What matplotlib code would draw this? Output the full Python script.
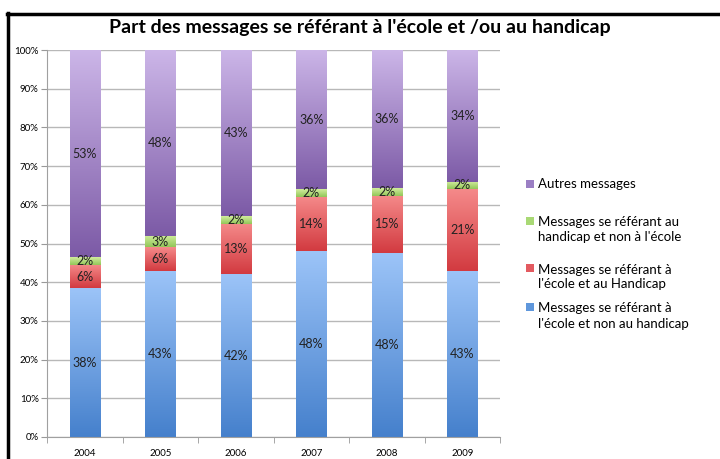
import numpy as np
import matplotlib
matplotlib.use("Agg")
from matplotlib import pyplot as plt
from matplotlib.colors import LinearSegmentedColormap
from matplotlib.patches import Rectangle
from matplotlib.lines import Line2D

plt.rcParams['font.family'] = ['Lato', 'DejaVu Sans']

years = ['2004', '2005', '2006', '2007', '2008', '2009']
ecole_non_handicap = [38, 43, 42, 48, 48, 43]
ecole_et_handicap = [6, 6, 13, 14, 15, 21]
handicap_non_ecole = [2, 3, 2, 2, 2, 2]
autres = [53, 48, 43, 36, 36, 34]

series = [ecole_non_handicap, ecole_et_handicap, handicap_non_ecole, autres]
labels = ["Messages se référant à\nl'école et non au handicap",
          "Messages se référant à\nl'école et au Handicap",
          "Messages se référant au\nhandicap et non à l'école",
          "Autres messages"]
# (bottom colour, top colour) for the gradient
colors = [('#4580cc', '#9cc4f8'),
          ('#d23a40', '#f58a8a'),
          ('#92c658', '#d2ed9e'),
          ('#7c5aa6', '#ccb6e8')]
legend_colors = ['#5f97dc', '#e35a60', '#a9d975', '#9b7fc4']

data = np.array(series, dtype=float)
pct = data / data.sum(axis=0) * 100

fig = plt.figure(figsize=(7.2, 4.59), dpi=100)
ax = fig.add_axes([47/720, 1-437/459, 453/720, 387/459])

x = np.arange(len(years))
w = 0.4
grad = np.linspace(0, 1, 256).reshape(-1, 1)
bottom = np.zeros(len(years))
for i, s in enumerate(pct):
    cmap = LinearSegmentedColormap.from_list('c%d' % i, list(colors[i]))
    bars = ax.bar(x, s, bottom=bottom, width=w, color='none', edgecolor='none', zorder=2)
    for j, bar in enumerate(bars):
        im = ax.imshow(grad, extent=[x[j]-w/2, x[j]+w/2, bottom[j], bottom[j]+s[j]],
                       origin='lower', cmap=cmap, aspect='auto', zorder=2)
        im.set_clip_path(bar)
        ax.text(x[j], bottom[j] + s[j]/2, '%d%%' % data[i][j], ha='center', va='center',
                fontsize=9, color='#222222', zorder=3)
    bottom += s

ax.set_xlim(-0.5, len(years)-0.5)
ax.set_ylim(0, 100)
ax.set_yticks(np.arange(0, 101, 10))
ax.set_yticklabels(['%d%%' % v for v in range(0, 101, 10)], fontsize=7)
ax.set_xticks(x)
ax.set_xticklabels(years, fontsize=7)
ax.set_xticks(np.arange(-0.5, len(years)), minor=True)
ax.tick_params(axis='x', which='major', length=0, pad=9)
ax.tick_params(axis='x', which='minor', length=4, color='#999999')
ax.tick_params(axis='y', length=4, color='#999999', pad=2)
ax.yaxis.grid(True, color='#b8b8b8', linewidth=1)
ax.set_axisbelow(True)
for side in ['top', 'right']:
    ax.spines[side].set_visible(False)
for side in ['left', 'bottom']:
    ax.spines[side].set_color('#a0a0a0')

fig.text(360/720, 1-28/459, "Part des messages se référant à l'école et /ou au handicap",
         ha='center', va='center', fontsize=14, fontweight='bold')

# legend, drawn by hand to keep the uneven spacing
leg_y = [316, 277, 230, 184]
for i in range(4):
    yy = 1 - leg_y[i]/459
    n = labels[i].count('\n')
    top = yy + (0.02 if n else 0)
    fig.patches.append(Rectangle((526/720, top - 0.009), 8/720, 0.017,
                                 transform=fig.transFigure, facecolor=legend_colors[i],
                                 edgecolor='none'))
    fig.text(538/720, yy, labels[i], ha='left', va='center', fontsize=9.5,
             linespacing=1.3)

# black frame on the left and top
fig.add_artist(Line2D([8/720, 8/720], [0, 1-13/459], transform=fig.transFigure,
                      color='black', linewidth=2.5))
fig.add_artist(Line2D([7/720, 1], [1-14/459, 1-14/459], transform=fig.transFigure,
                      color='black', linewidth=2.5))

fig.savefig('out.png', dpi=100)
